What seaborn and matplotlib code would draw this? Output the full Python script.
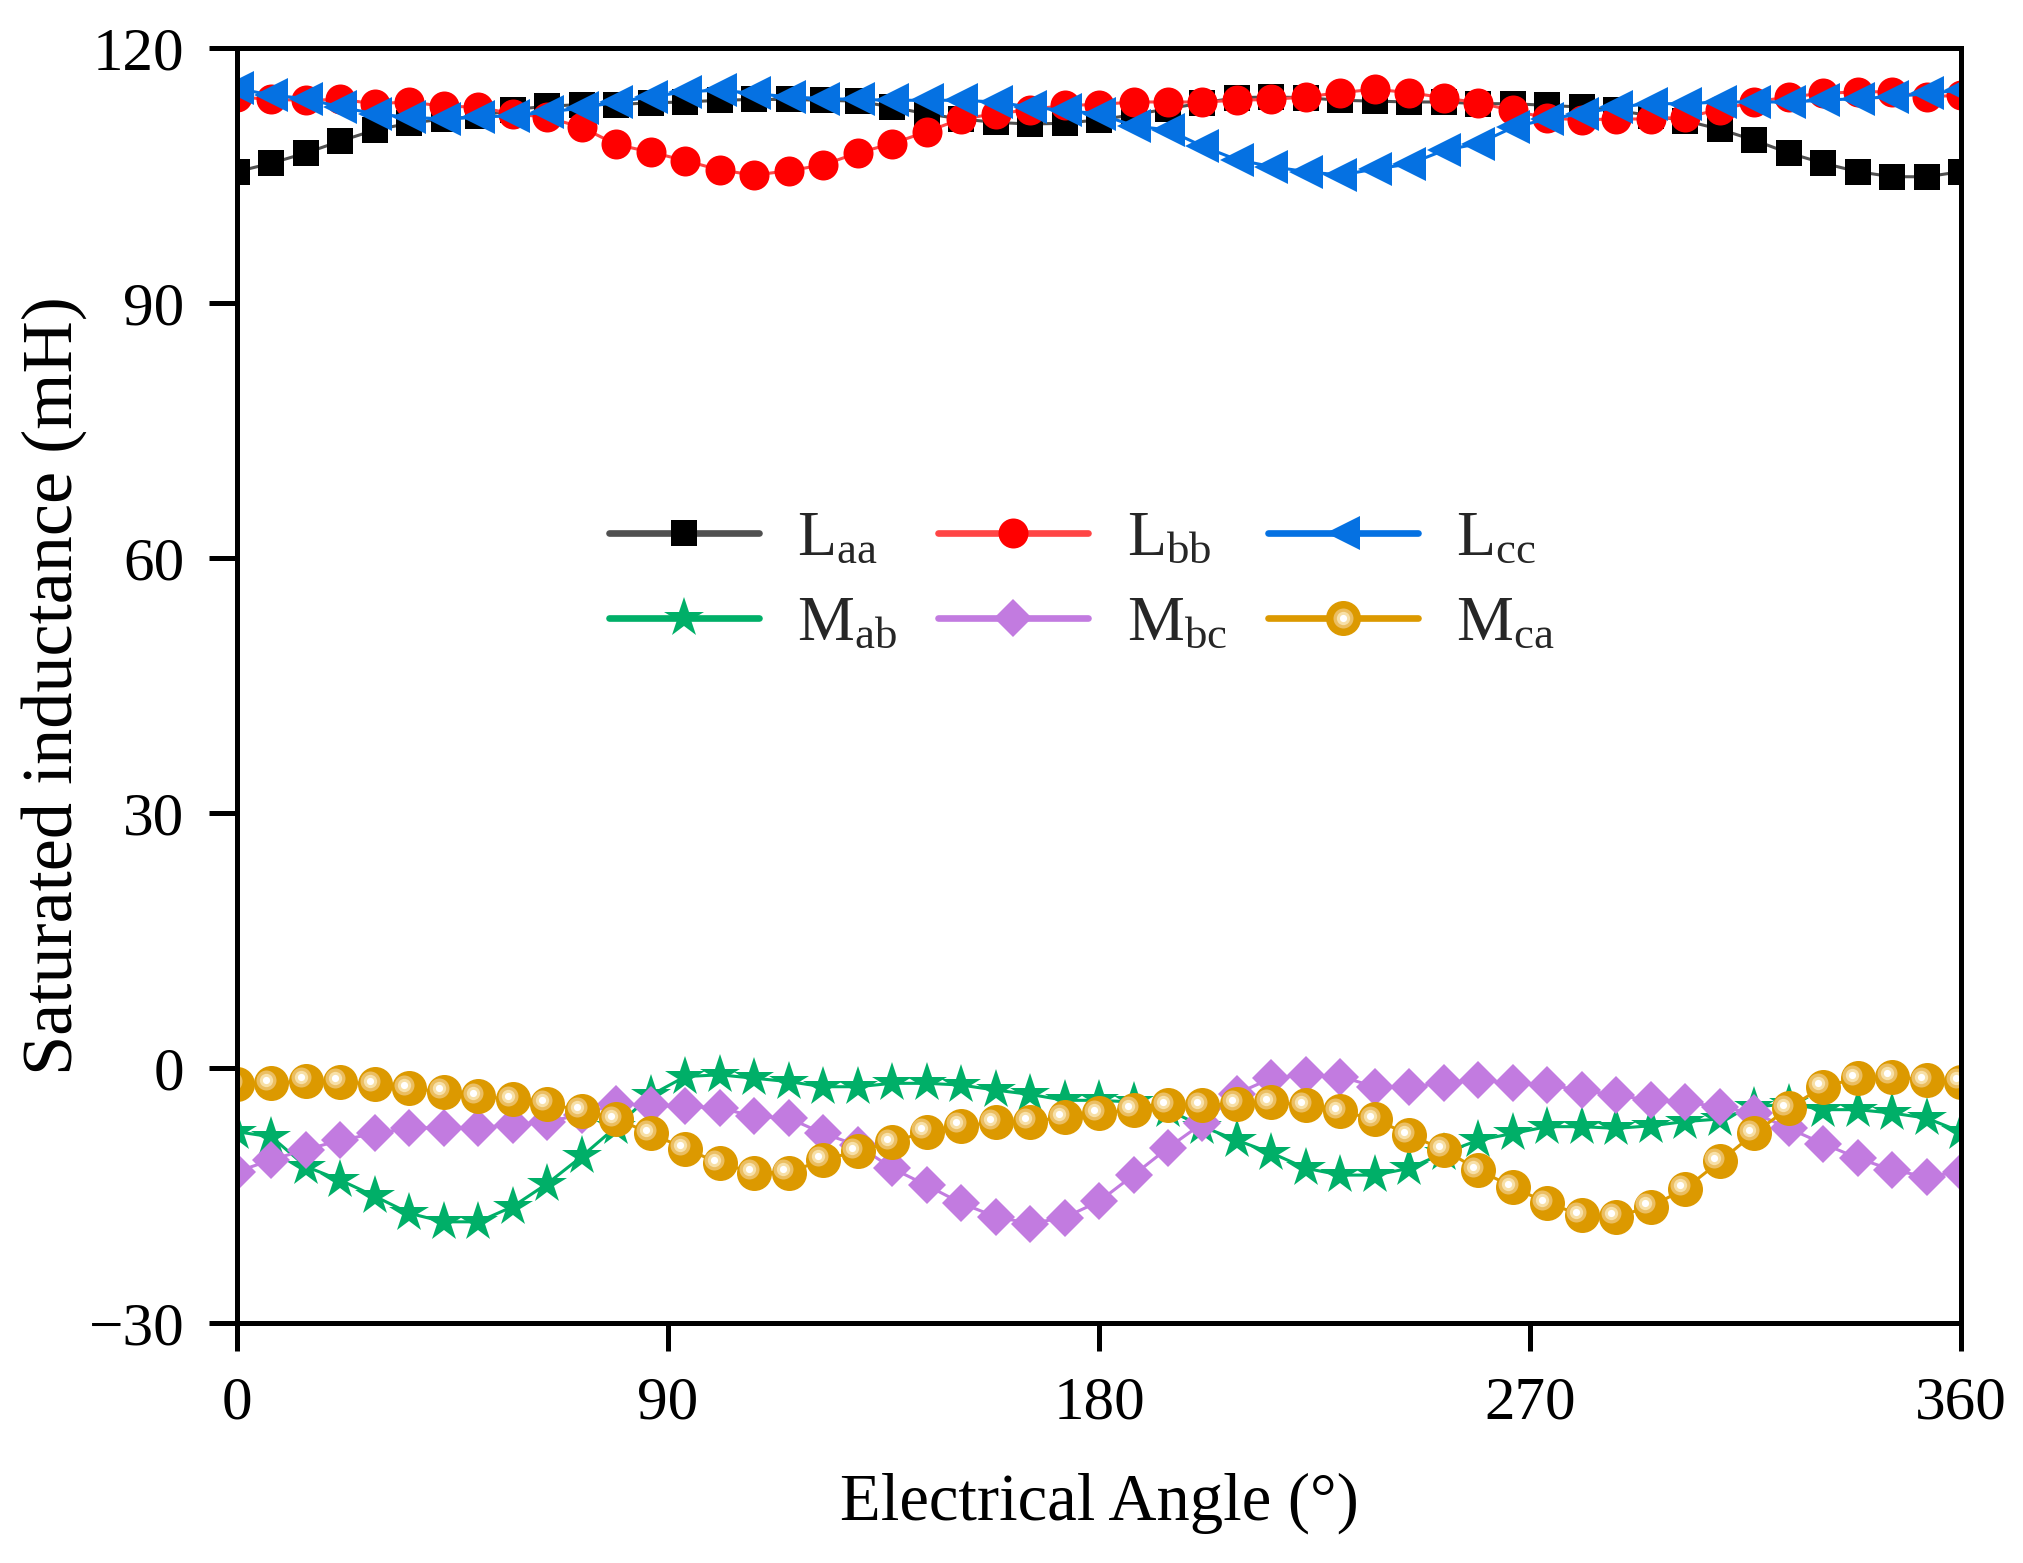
import numpy as np
import pandas as pd
import matplotlib
matplotlib.use("Agg")
import matplotlib.pyplot as plt
import matplotlib.transforms as mtransforms
from matplotlib.lines import Line2D
from matplotlib.legend_handler import HandlerTuple
import seaborn as sns

# ---------------- data ----------------
angle = [0, 7.2, 14.4, 21.6, 28.8, 36, 43.2, 50.4, 57.6, 64.8, 72, 79.2, 86.4,
         93.6, 100.8, 108, 115.2, 122.4, 129.6, 136.8, 144, 151.2, 158.4, 165.6,
         172.8, 180, 187.2, 194.4, 201.6, 208.8, 216, 223.2, 230.4, 237.6, 244.8,
         252, 259.2, 266.4, 273.6, 280.8, 288, 295.2, 302.4, 309.6, 316.8, 324,
         331.2, 338.4, 345.6, 352.8, 360]

L_aa = [105.5, 106.5, 107.7, 109.1, 110.4, 111.2, 111.7, 112.0, 112.8, 113.2,
        113.4, 113.4, 113.6, 113.7, 113.9, 114.0, 114.0, 113.9, 113.8, 113.1,
        112.3, 111.7, 111.3, 111.1, 111.2, 111.6, 112.2, 112.9, 113.6, 114.2,
        114.3, 114.2, 113.9, 113.8, 113.7, 113.7, 113.5, 113.5, 113.3, 113.1,
        112.7, 112.1, 111.5, 110.5, 109.2, 107.7, 106.5, 105.5, 104.9, 104.9,
        105.5]

L_bb = [114.3, 114.0, 113.9, 114.0, 113.5, 113.7, 113.2, 113.1, 112.3, 111.9,
        110.7, 108.7, 107.8, 106.8, 105.7, 105.1, 105.6, 106.3, 107.7, 108.8,
        110.2, 111.7, 112.3, 112.8, 113.3, 113.4, 113.7, 113.7, 113.7, 113.9,
        114.0, 114.3, 114.8, 115.2, 114.8, 114.2, 113.6, 112.7, 111.8, 111.6,
        111.7, 111.7, 111.9, 112.8, 113.7, 114.3, 114.7, 114.9, 114.9, 114.3,
        114.5]

L_cc = [115.3, 114.5, 114.1, 113.1, 112.3, 111.9, 111.7, 111.9, 112.1, 112.5,
        113.0, 113.7, 114.3, 114.9, 115.1, 114.7, 114.3, 114.1, 114.0, 113.9,
        113.9, 113.9, 113.7, 113.1, 112.7, 112.3, 110.9, 110.4, 108.5, 106.9,
        106.1, 105.5, 105.1, 105.8, 106.4, 108.0, 108.8, 110.7, 111.7, 112.3,
        113.1, 113.5, 113.5, 113.7, 113.7, 113.7, 113.9, 114.1, 114.3, 114.7,
        115.1]

M_ab = [-7.5, -8.1, -11.6, -13.2, -15.1, -17.1, -18.1, -18.1, -16.3, -13.6,
        -10.4, -6.9, -3.2, -1.0, -0.8, -1.2, -1.6, -2.2, -2.2, -1.8,
        -1.8, -2.0, -2.6, -3.1, -3.8, -3.8, -4.0, -4.9, -6.9, -8.5,
        -10.0, -11.8, -12.6, -12.6, -11.8, -10.0, -8.5, -7.7, -6.9, -6.9,
        -7.1, -6.8, -6.3, -6.0, -4.6, -4.2, -4.9, -4.9, -5.3, -5.9,
        -7.5]

M_bc = [-12.2, -10.8, -9.6, -8.5, -7.7, -7.1, -7.0, -7.0, -6.7, -6.3,
        -5.5, -4.2, -4.4, -4.5, -4.7, -5.7, -5.9, -7.7, -9.1, -11.8,
        -13.8, -15.9, -17.5, -18.3, -17.6, -15.7, -12.6, -9.4, -6.5, -3.0,
        -1.2, -0.8, -1.0, -2.2, -2.2, -1.8, -1.4, -1.8, -2.0, -2.6,
        -3.2, -3.8, -4.0, -4.6, -5.3, -7.1, -8.9, -10.6, -12.0, -12.8,
        -12.2]

M_ca = [-1.9, -1.8, -1.5, -1.6, -1.9, -2.4, -2.8, -3.3, -3.7, -4.2,
        -5.0, -6.0, -7.7, -9.5, -11.2, -12.3, -12.3, -10.8, -9.8, -8.7,
        -7.5, -6.8, -6.4, -6.3, -5.8, -5.3, -4.9, -4.4, -4.4, -4.2,
        -4.0, -4.4, -5.1, -6.0, -7.9, -9.6, -12.0, -14.0, -15.9, -17.3,
        -17.5, -16.3, -14.2, -11.0, -7.7, -4.7, -2.2, -1.2, -1.0, -1.4,
        -1.6]

series_keys = ["Laa", "Lbb", "Lcc", "Mab", "Mbc", "Mca"]
legend_labels = [r"L$_{\mathrm{aa}}$", r"L$_{\mathrm{bb}}$", r"L$_{\mathrm{cc}}$",
                 r"M$_{\mathrm{ab}}$", r"M$_{\mathrm{bc}}$", r"M$_{\mathrm{ca}}$"]
x_ticks = [0, 90, 180, 270, 360]
y_ticks = [-30, 0, 30, 60, 90, 120]

df = pd.DataFrame({"angle": angle, "Laa": L_aa, "Lbb": L_bb, "Lcc": L_cc,
                   "Mab": M_ab, "Mbc": M_bc, "Mca": M_ca})

# ---------------- style ----------------
sns.set_theme(style="ticks")
plt.rcParams["font.family"] = ["Liberation Serif", "DejaVu Serif"]
plt.rcParams["mathtext.fontset"] = "custom"
plt.rcParams["mathtext.rm"] = "Liberation Serif"
plt.rcParams["mathtext.it"] = "Liberation Serif:italic"
plt.rcParams["axes.unicode_minus"] = True

# key: (line colour, marker colour, marker, marker size)
styles = {
    "Laa": ("#505050", "#000000", "s", 9.6),
    "Lbb": ("#FF4545", "#FF0000", "o", 10.8),
    "Lcc": ("#0571E2", "#0571E2", "<", 12.4),
    "Mab": ("#00AF68", "#00AF68", "*", 14.8),
    "Mbc": ("#C27BE0", "#C27BE0", "D", 9.6),
    "Mca": ("#DC9900", "#DC9900", "o", 12.6),
}
# highlight layers of the "ball" markers: (colour, size in points)
ball_shine = [("#EBBE62", 7.2), ("#F7E0A8", 4.8), ("#FFFFFF", 2.6)]

fig = plt.figure(figsize=(10.12, 7.815), dpi=200)
ax = fig.add_axes([0.1171, 0.1536, 0.8518, 0.8154])

for key in series_keys:
    lc, mc, mk, ms = styles[key]
    sns.lineplot(data=df, x="angle", y=key, ax=ax, color=lc, linewidth=1.1,
                 marker=mk, markersize=ms, markerfacecolor=mc,
                 markeredgecolor=mc, markeredgewidth=0, errorbar=None,
                 sort=False, legend=False)
    if key == "Mca":
        off = mtransforms.offset_copy(ax.transData, fig=fig, x=-1.9, y=1.2,
                                      units="points")
        for hc, hs in ball_shine:
            sns.lineplot(data=df, x="angle", y=key, ax=ax, linestyle="none",
                         marker="o", markersize=hs, markerfacecolor=hc,
                         markeredgecolor=hc, markeredgewidth=0, color=hc,
                         errorbar=None, sort=False, legend=False,
                         transform=off)

ax.set_xlim(0, 360)
ax.set_ylim(-30, 120)
ax.set_xticks(x_ticks)
ax.set_yticks(y_ticks)
ax.set_xticklabels([str(v) for v in x_ticks])
ax.set_yticklabels([("\u2212" + str(-v)) if v < 0 else str(v) for v in y_ticks])

for side in ["left", "right", "top", "bottom"]:
    ax.spines[side].set_visible(True)
    ax.spines[side].set_linewidth(1.8)
    ax.spines[side].set_color("black")
ax.tick_params(axis="both", which="major", direction="out", length=10,
               width=1.8, color="black", labelsize=22, pad=9,
               labelcolor="black")
ax.tick_params(top=False, right=False)

ax.set_xlabel("Electrical Angle (\u00b0)", fontsize=24, color="black")
ax.set_ylabel("Saturated inductance (mH)", fontsize=26, color="black")
ax.xaxis.set_label_coords(0.5, -0.117)
ax.yaxis.set_label_coords(-0.087, 0.5)
ax.grid(False)


# ---------------- legend ----------------
def make_handle(key):
    lc, mc, mk, ms = styles[key]
    h = Line2D([], [], color=lc, linewidth=2.4, marker=mk, markersize=ms,
               markerfacecolor=mc, markeredgecolor=mc, markeredgewidth=0)
    if key == "Mca":
        extras = [Line2D([], [], linestyle="none", marker="o", markersize=hs,
                         markerfacecolor=hc, markeredgewidth=0)
                  for hc, hs in ball_shine]
        return tuple([h] + extras)
    return h


handles = {k: make_handle(k) for k in series_keys}
labels = dict(zip(series_keys, legend_labels))
order = ["Laa", "Mab", "Lbb", "Mbc", "Lcc", "Mca"]
leg = ax.legend([handles[k] for k in order], [labels[k] for k in order],
                ncol=3, loc="center", bbox_to_anchor=(0.49, 0.581),
                frameon=False, fontsize=23, handlelength=2.35,
                handletextpad=0.6, columnspacing=0.64, labelspacing=0.42,
                borderpad=0, numpoints=1,
                handler_map={tuple: HandlerTuple(ndivide=1, pad=0)})

fig.savefig("out.png", dpi=200)
